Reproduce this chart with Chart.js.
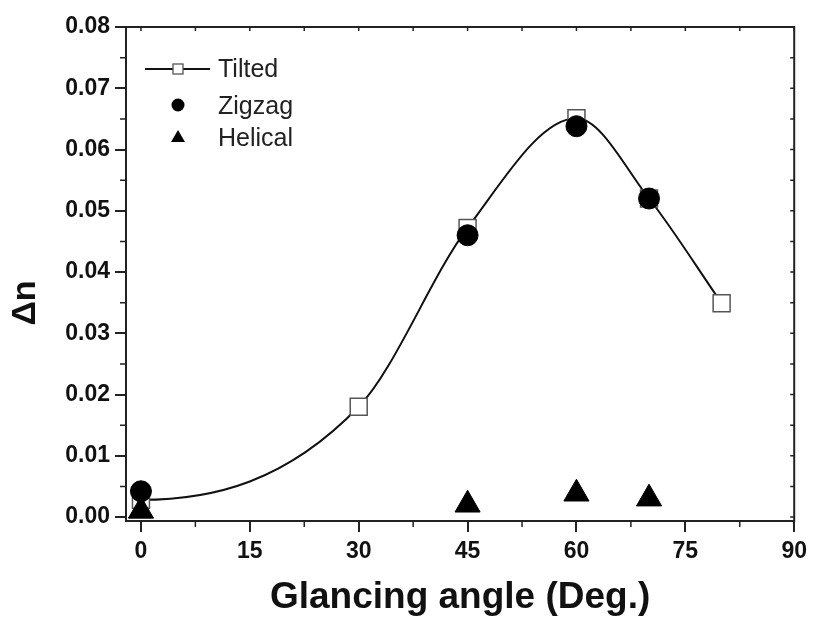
<!DOCTYPE html>
<html>
<head>
<meta charset="utf-8">
<script src="https://cdn.jsdelivr.net/npm/chart.js@4.4.0/dist/chart.umd.min.js"></script>
<style>
  html, body { margin: 0; padding: 0; background: #fff; }
  #wrap { width: 813px; height: 621px; }
</style>
</head>
<body>
<div id="wrap"><canvas id="chart" width="813" height="621"></canvas></div>
<script>
// --- values ---
const tiltedAngles = [0, 30, 45, 60, 70, 80];
const tiltedDn = [0.0028, 0.018, 0.0472, 0.0651, 0.052, 0.0349];
const zigzagAngles = [0, 45, 60, 70];
const zigzagDn = [0.0042, 0.046, 0.0638, 0.052];
const helicalAngles = [0, 45, 60, 70];
const helicalDn = [0.001, 0.002, 0.0038, 0.003];

const xTicks = [0, 15, 30, 45, 60, 75, 90];
const xTickLabels = ["0", "15", "30", "45", "60", "75", "90"];
const xMinorTicks = [7.5, 22.5, 37.5, 52.5, 67.5, 82.5];
const yTicks = [0, 0.01, 0.02, 0.03, 0.04, 0.05, 0.06, 0.07, 0.08];
const yTickLabels = ["0.00", "0.01", "0.02", "0.03", "0.04", "0.05", "0.06", "0.07", "0.08"];
const yMinorTicks = [0.005, 0.015, 0.025, 0.035, 0.045, 0.055, 0.065, 0.075];

const seriesNames = ["Tilted", "Zigzag", "Helical"];
const xTitle = "Glancing angle (Deg.)";
const yTitle = "Δn";

const FONT = "'Liberation Sans', Arial, sans-serif";

function toPoints(xs, ys) {
  return xs.map((x, i) => ({ x: x, y: ys[i] }));
}

// --- flat start for the fitted curve (like the original spline) ---
const flatStart = {
  id: "flatStart",
  beforeDatasetDraw(chart, args) {
    if (args.index !== 0) return;
    const line = args.meta.dataset;
    if (line && typeof line.updateControlPoints === "function") {
      line.updateControlPoints(chart.chartArea, "x");
      const pts = args.meta.data;
      if (pts.length) pts[0].cp2y = pts[0].y;
    }
  }
};

// --- box frame, minor ticks, inner ticks on top/right ---
const frame = {
  id: "frame",
  afterDraw(chart) {
    const { ctx, chartArea: a, scales } = chart;
    const x = scales.x, y = scales.y;
    ctx.save();
    ctx.strokeStyle = "#222";
    ctx.lineWidth = 2;
    ctx.strokeRect(a.left, a.top, a.right - a.left, a.bottom - a.top);

    ctx.lineWidth = 1.5;
    ctx.beginPath();
    xMinorTicks.forEach(v => {
      const px = x.getPixelForValue(v);
      ctx.moveTo(px, a.bottom); ctx.lineTo(px, a.bottom + 6);
    });
    yMinorTicks.forEach(v => {
      const py = y.getPixelForValue(v);
      ctx.moveTo(a.left - 6, py); ctx.lineTo(a.left, py);
    });
    xTicks.concat(xMinorTicks).forEach(v => {
      const px = x.getPixelForValue(v);
      ctx.moveTo(px, a.top); ctx.lineTo(px, a.top + 4);
    });
    yTicks.concat(yMinorTicks).forEach(v => {
      const py = y.getPixelForValue(v);
      ctx.moveTo(a.right - 4, py); ctx.lineTo(a.right, py);
    });
    ctx.stroke();

    // y title, sits a bit below centre in the original
    ctx.fillStyle = "#111";
    ctx.font = "bold 34px " + FONT;
    ctx.textAlign = "center";
    ctx.textBaseline = "middle";
    ctx.translate(26, (a.top + a.bottom) / 2 + 29);
    ctx.rotate(-Math.PI / 2);
    ctx.fillText(yTitle, 0, 0);
    ctx.restore();

    // legend inside the plot
    const lx = a.left + 52, tx = a.left + 92;
    const rows = [a.top + 42, a.top + 78, a.top + 110];
    ctx.save();
    ctx.strokeStyle = "#111";
    ctx.lineWidth = 2;
    ctx.beginPath();
    ctx.moveTo(a.left + 19, rows[0]); ctx.lineTo(a.left + 84, rows[0]);
    ctx.stroke();
    ctx.fillStyle = "#fff";
    ctx.strokeStyle = "#555";
    ctx.lineWidth = 1.3;
    ctx.fillRect(lx - 5, rows[0] - 5, 10, 10);
    ctx.strokeRect(lx - 5, rows[0] - 5, 10, 10);

    ctx.fillStyle = "#000";
    ctx.beginPath();
    ctx.arc(lx, rows[1], 6.5, 0, Math.PI * 2);
    ctx.fill();

    ctx.beginPath();
    ctx.moveTo(lx, rows[2] - 7);
    ctx.lineTo(lx + 7, rows[2] + 5);
    ctx.lineTo(lx - 7, rows[2] + 5);
    ctx.closePath();
    ctx.fill();

    ctx.fillStyle = "#222";
    ctx.font = "25px " + FONT;
    ctx.textAlign = "left";
    ctx.textBaseline = "alphabetic";
    ctx.fillText(seriesNames[0], tx, rows[0] + 8);
    ctx.fillText(seriesNames[1], tx, rows[1] + 9);
    ctx.fillText(seriesNames[2], tx, rows[2] + 9);
    ctx.restore();
  }
};

const ctx = document.getElementById("chart").getContext("2d");
new Chart(ctx, {
  type: "scatter",
  data: {
    datasets: [
      {
        label: seriesNames[0],
        data: toPoints(tiltedAngles, tiltedDn),
        showLine: true,
        cubicInterpolationMode: "monotone",
        borderColor: "#111",
        borderWidth: 2,
        pointStyle: "rect",
        pointRadius: 12,
        pointBackgroundColor: "#fff",
        pointBorderColor: "#555",
        pointBorderWidth: 1.5,
        order: 3
      },
      {
        label: seriesNames[1],
        data: toPoints(zigzagAngles, zigzagDn),
        showLine: false,
        pointStyle: "circle",
        pointRadius: 10.5,
        pointBackgroundColor: "#000",
        pointBorderColor: "#000",
        pointBorderWidth: 1,
        order: 1
      },
      {
        label: seriesNames[2],
        data: toPoints(helicalAngles, helicalDn),
        showLine: false,
        pointStyle: "triangle",
        pointRadius: 14.5,
        pointBackgroundColor: "#000",
        pointBorderColor: "#000",
        pointBorderWidth: 1,
        order: 2
      }
    ]
  },
  options: {
    responsive: false,
    animation: false,
    events: [],
    layout: { padding: { top: 27, right: 16, left: 0, bottom: 0 } },
    plugins: { legend: { display: false }, tooltip: { enabled: false } },
    scales: {
      x: {
        type: "linear",
        min: -2.06,
        max: 90,
        afterBuildTicks: s => { s.ticks = xTicks.map(v => ({ value: v })); },
        afterFit: s => { s.height = 100; },
        ticks: {
          color: "#111",
          padding: 6,
          maxRotation: 0,
          font: { family: FONT, size: 23, weight: "bold" },
          callback: (v, i) => xTickLabels[i]
        },
        grid: { drawOnChartArea: false, tickLength: 11, lineWidth: 2, color: "#222" },
        border: { display: true, color: "#222", width: 2 },
        title: {
          display: true,
          text: xTitle,
          color: "#111",
          padding: { top: 0, bottom: 1 },
          font: { family: FONT, size: 37, weight: "bold" }
        }
      },
      y: {
        type: "linear",
        min: -0.00065,
        max: 0.08,
        afterBuildTicks: s => { s.ticks = yTicks.map(v => ({ value: v })); },
        afterFit: s => { s.width = 126; },
        ticks: {
          color: "#111",
          padding: 5,
          font: { family: FONT, size: 23, weight: "bold" },
          callback: (v, i) => yTickLabels[i]
        },
        grid: { drawOnChartArea: false, tickLength: 11, lineWidth: 2, color: "#222" },
        border: { display: true, color: "#222", width: 2 }
      }
    }
  },
  plugins: [flatStart, frame]
});
</script>
</body>
</html>
